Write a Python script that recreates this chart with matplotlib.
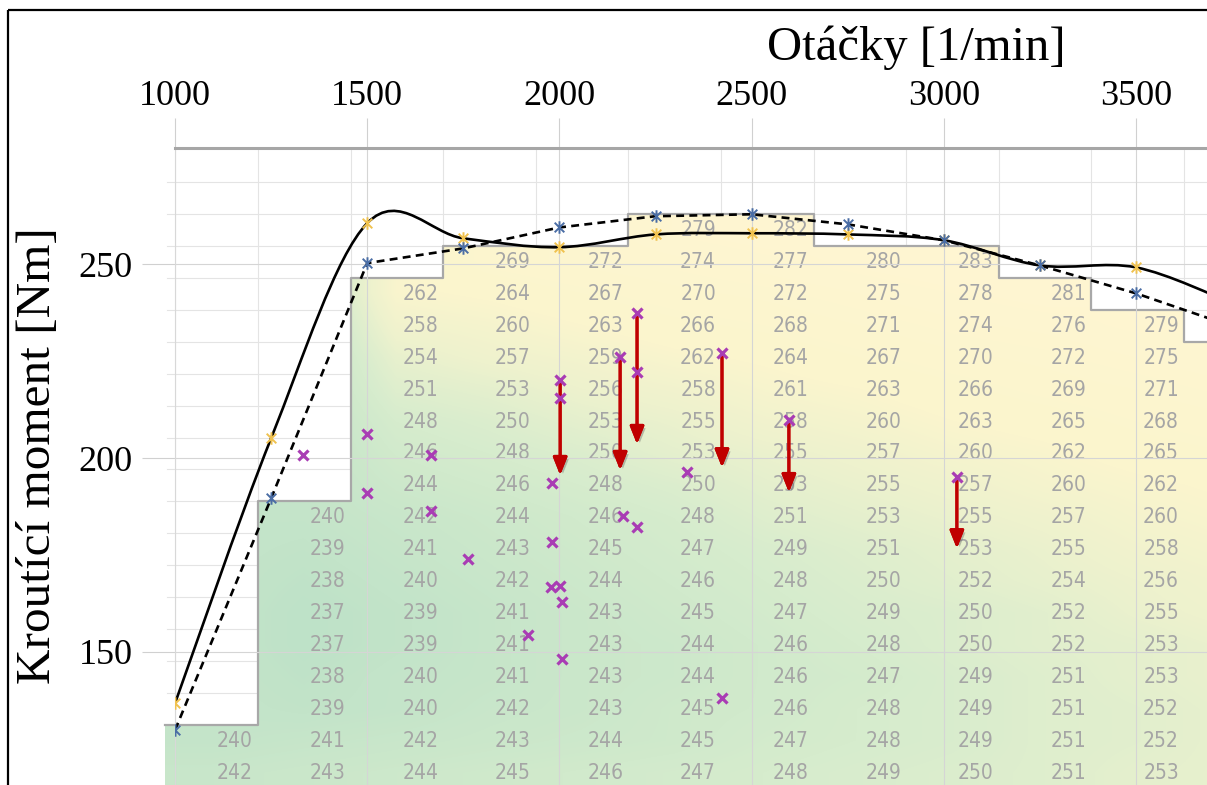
import numpy as np
import matplotlib
matplotlib.use("Agg")
import matplotlib.pyplot as plt
from matplotlib.path import Path
from matplotlib.patches import PathPatch, Polygon, FancyArrowPatch, Rectangle
from matplotlib.colors import LinearSegmentedColormap
from matplotlib import font_manager
import matplotlib.patheffects as pe

# chart data: engine speed [1/min] vs torque [Nm]
rpm = [1000, 1250, 1500, 1750, 2000, 2250, 2500, 2750, 3000, 3250, 3500, 3750]
torque_solid = [136.7, 205.1, 260.6, 256.7, 254.4, 257.7, 258.0, 257.7, 256.2, 249.7, 249.2, 240.0]
torque_dashed = [129.8, 189.6, 250.3, 254.1, 259.5, 262.4, 262.9, 260.3, 256.2, 249.7, 242.5, 234.0]

# measured points (magenta crosses)
meas_rpm = [1333, 1499, 1499, 1666, 1666, 1762, 1981, 1981, 1978, 2002, 2007, 1918, 2007,
            2165, 2202, 2332, 2423, 2002, 2002, 2158, 2202, 2202, 2423, 2597, 3034]
meas_torque = [200.7, 206.1, 190.9, 200.7, 186.3, 173.9, 193.5, 178.3, 166.7, 166.9, 162.8, 154.3, 148.1,
               185.0, 182.1, 196.3, 138.0, 220.1, 215.4, 226.0, 237.4, 222.1, 227.0, 209.8, 195.0]

# red arrows (drop of torque)
arrow_rpm = [2002, 2158, 2202, 2423, 2597, 3034]
arrow_from = [220.1, 226.0, 237.4, 227.0, 209.8, 195.0]
arrow_to = [195.6, 196.9, 203.6, 197.6, 191.2, 176.7]

x_ticks = [1000, 1500, 2000, 2500, 3000, 3500]
y_ticks = [150, 200, 250]

# spreadsheet table behind the chart, one list per column (bottom-aligned, rows 1..18)
table_cols = [
    [240, 242],
    [240, 239, 238, 237, 237, 238, 239, 241, 243],
    [262, 258, 254, 251, 248, 246, 244, 242, 241, 240, 239, 239, 240, 240, 242, 244],
    [269, 264, 260, 257, 253, 250, 248, 246, 244, 243, 242, 241, 241, 241, 242, 243, 245],
    [272, 267, 263, 259, 256, 253, 250, 248, 246, 245, 244, 243, 243, 243, 243, 244, 246],
    [279, 274, 270, 266, 262, 258, 255, 253, 250, 248, 247, 246, 245, 244, 244, 245, 245, 247],
    [282, 277, 272, 268, 264, 261, 258, 255, 253, 251, 249, 248, 247, 246, 246, 246, 247, 248],
    [280, 275, 271, 267, 263, 260, 257, 255, 253, 251, 250, 249, 248, 247, 248, 248, 249],
    [283, 278, 274, 270, 266, 263, 260, 257, 255, 253, 252, 250, 250, 249, 249, 249, 250],
    [281, 276, 272, 269, 265, 262, 260, 257, 255, 254, 252, 252, 251, 251, 251, 251],
    [279, 275, 271, 268, 265, 262, 260, 258, 256, 255, 253, 253, 252, 252, 253],
    [278, 274, 270, 267, 264, 262, 260, 258, 257, 255, 255, 254, 254, 254],
]

W, H = 1207, 785
fig = plt.figure(figsize=(W / 100, H / 100), dpi=100)
plt.rcParams['font.family'] = ['Liberation Serif', 'DejaVu Serif']

# narrow sans for the sheet numbers if one is installed
cell_prop = font_manager.FontProperties(family='Liberation Sans', size=13.5)
for f in font_manager.fontManager.ttflist:
    low = f.fname.lower()
    if ('narrow' in low or 'condensed' in low) and 'bold' not in low and 'italic' not in low \
            and 'oblique' not in low and 'mono' not in low and 'serif' not in low.replace('sans', ''):
        cell_prop = font_manager.FontProperties(fname=f.fname, size=15)
        break

# ---- background sheet (pixel coordinates) ----
bg = fig.add_axes([0, 0, 1, 1])
bg.set_xlim(0, W)
bg.set_ylim(H, 0)
bg.axis('off')
bg.set_zorder(0)

X0, COL_W = 165.4, 92.6
Y0, ROW_H = 182.0, 31.94
n_rows = 18
n_cols = len(table_cols)

# sheet grid lines
for k in range(n_rows + 2):
    y = Y0 + k * ROW_H
    bg.plot([167, W], [y, y], color='#e4e4e4', lw=0.8, zorder=0)
for k in range(1, n_cols + 1):
    x = X0 + k * COL_W
    bg.plot([x, x], [150, H], color='#e4e4e4', lw=0.8, zorder=0)

grid = np.full((n_rows, n_cols), np.nan)
tops = []
for c, vals in enumerate(table_cols):
    top = n_rows - len(vals)
    tops.append(top)
    grid[top:, c] = vals
    grid[:top, c] = vals[0]

cmap = LinearSegmentedColormap.from_list('sheet', [
    (0.0, (190 / 255, 226 / 255, 200 / 255)),
    (0.239, (214 / 255, 236 / 255, 205 / 255)),
    (0.413, (238 / 255, 242 / 255, 205 / 255)),
    (0.565, (251 / 255, 245 / 255, 205 / 255)),
    (1.0, (255 / 255, 246 / 255, 210 / 255)),
])
t_top = Y0 + ROW_H
t_bot = Y0 + (n_rows + 1) * ROW_H
im = bg.imshow(grid, cmap=cmap, vmin=237, vmax=283, interpolation='bilinear',
               extent=(X0, X0 + n_cols * COL_W, t_bot, t_top), aspect='auto', zorder=1)

outline = []
for c, top in enumerate(tops):
    y = t_top + top * ROW_H
    outline += [(X0 + c * COL_W, y), (X0 + (c + 1) * COL_W, y)]
clip = Polygon([(X0, 900)] + outline + [(X0 + n_cols * COL_W, 900)], closed=True,
               transform=bg.transData, facecolor='none', edgecolor='none')
bg.add_patch(clip)
im.set_clip_path(clip)
ox, oy = zip(*outline)
bg.plot(ox, oy, color='#a8a8a8', lw=1.6, zorder=2)

for c, vals in enumerate(table_cols):
    x_right = X0 + (c + 1) * COL_W - 5
    if x_right > W:
        continue  # column lies beyond the cropped picture
    for i, v in enumerate(vals):
        r = tops[c] + i
        bg.text(x_right, t_top + (r + 0.5) * ROW_H, str(v),
                ha='right', va='center', color='#a5a5a5',
                fontproperties=cell_prop, zorder=3)

bg.add_patch(Rectangle((8, 10), 1400, 900, fill=False, edgecolor='black', lw=1.6, zorder=5))

# ---- chart on top ----
ax = fig.add_axes([175 / W, 0, 1032 / W, 637 / H])
ax.set_zorder(1)
ax.set_facecolor('none')
ax.set_xlim(1000, 1000 + 1032 / 0.3844)
ax.set_ylim(115.65, 280)

ax.xaxis.tick_top()
ax.set_xticks(x_ticks)
ax.set_yticks(y_ticks)
for s in ['right', 'bottom']:
    ax.spines[s].set_visible(False)
ax.spines['top'].set_color('#a6a6a6')
ax.spines['top'].set_linewidth(2.2)
ax.spines['left'].set_color('#d8d8d8')
ax.spines['left'].set_linewidth(0.8)
ax.tick_params(axis='x', direction='out', length=21.6, width=0.8, color='#d0d0d0', pad=3.6, labelsize=26)
ax.tick_params(axis='y', direction='out', length=23.8, width=0.8, color='#d0d0d0', pad=6.5, labelsize=26)
ax.grid(True, color='#d5d5d5', lw=0.8)
ax.set_axisbelow(True)

ax.set_xlabel('Otáčky [1/min]', fontsize=35)
ax.xaxis.set_label_position('top')
ax.xaxis.set_label_coords((916 - 175) / 1032, (785 - 48) / 637)
ax.xaxis.label.set_va('center')
ax.set_ylabel('Kroutící moment [Nm]', fontsize=35.5)
ax.yaxis.set_label_coords((38 - 175) / 1032, (785 - 456) / 637)
ax.yaxis.label.set_va('center')


def smooth_path(xs, ys):
    pts = np.column_stack([xs, ys])
    n = len(pts)
    verts = [pts[0]]
    codes = [Path.MOVETO]
    for i in range(n - 1):
        p0 = pts[max(i - 1, 0)]
        p1 = pts[i]
        p2 = pts[i + 1]
        p3 = pts[min(i + 2, n - 1)]
        verts += [p1 + (p2 - p0) / 6, p2 - (p3 - p1) / 6, p2]
        codes += [Path.CURVE4] * 3
    return Path(verts, codes)


star = Path([(-1, -1), (1, 1), (-1, 1), (1, -1), (0, -1.3), (0, 1.3)],
            [Path.MOVETO, Path.LINETO, Path.MOVETO, Path.LINETO, Path.MOVETO, Path.LINETO])

ax.plot(rpm, torque_dashed, color='black', lw=1.9, ls=(0, (3, 2)), zorder=3)
ax.add_patch(PathPatch(smooth_path(rpm, torque_solid), fill=False, edgecolor='black', lw=1.9, zorder=3))
ax.plot(rpm, torque_solid, ls='none', marker=star, ms=9, mew=1.4, mec='#f0c24f', zorder=4)
ax.plot(rpm, torque_dashed, ls='none', marker=star, ms=9, mew=1.4, mec='#4a6da5', zorder=4)

shadow = [pe.withSimplePatchShadow(offset=(2, -2), shadow_rgbFace='#555555', alpha=0.35), pe.Normal()]
for x, y0, y1 in zip(arrow_rpm, arrow_from, arrow_to):
    ax.add_patch(FancyArrowPatch((x, y0), (x, y1), arrowstyle='-|>,head_length=0.7,head_width=0.28',
                                 mutation_scale=15, color='#c00000', lw=2.2, shrinkA=0, shrinkB=0,
                                 path_effects=shadow, zorder=5))

ax.plot(meas_rpm, meas_torque, ls='none', marker='x', ms=6.5, mew=2.3, color='#a93cb4', zorder=6)

fig.savefig('out.png', dpi=100)
